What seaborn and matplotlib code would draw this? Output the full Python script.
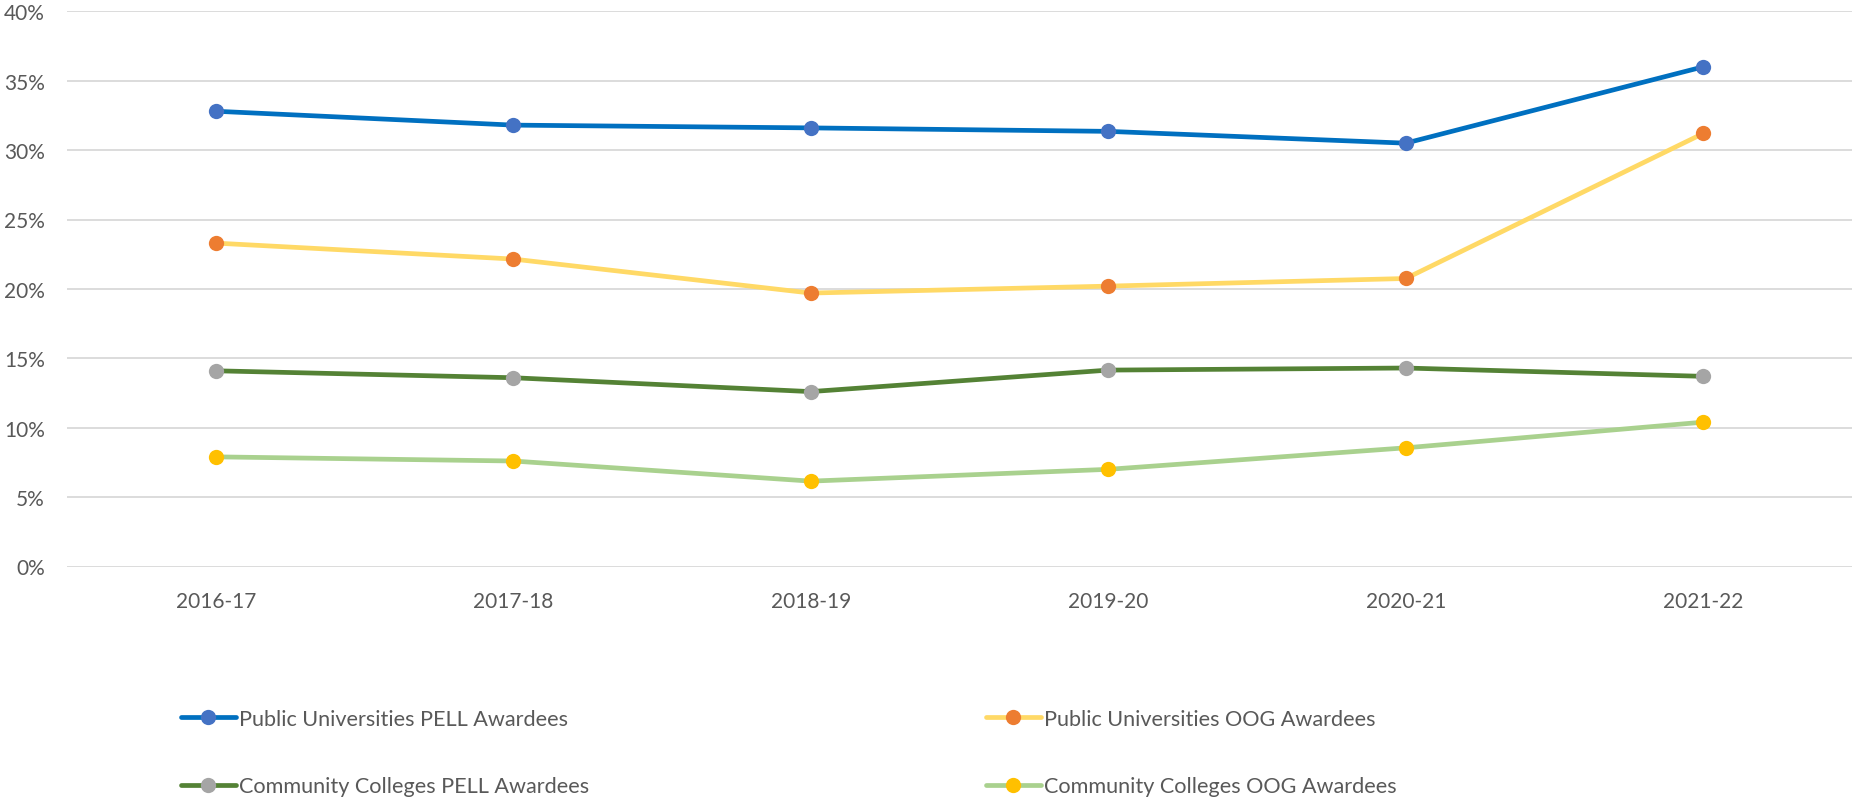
import pandas as pd
import matplotlib.pyplot as plt
import seaborn as sns
from matplotlib.ticker import PercentFormatter

sns.set_theme(style="white")
plt.rcParams['font.family'] = ['Lato', 'DejaVu Sans']

# data (percent)
years = ['2016-17', '2017-18', '2018-19', '2019-20', '2020-21', '2021-22']
pu_pell = [32.8, 31.8, 31.6, 31.35, 30.5, 36.0]
pu_oog = [23.3, 22.15, 19.7, 20.2, 20.75, 31.2]
cc_pell = [14.1, 13.6, 12.6, 14.15, 14.3, 13.7]
cc_oog = [7.9, 7.6, 6.15, 7.0, 8.55, 10.4]

series_names = ['Public Universities PELL Awardees', 'Public Universities OOG Awardees',
                'Community Colleges PELL Awardees', 'Community Colleges OOG Awardees']
line_colors = ['#0070C0', '#FFD966', '#548235', '#A9D18E']
marker_colors = ['#4472C4', '#ED7D31', '#A5A5A5', '#FFC000']

df = pd.DataFrame({'year': years, series_names[0]: pu_pell, series_names[1]: pu_oog,
                   series_names[2]: cc_pell, series_names[3]: cc_oog})

fig = plt.figure(figsize=(18.52, 8.04), dpi=100)
ax = fig.add_axes([67 / 1852, 1 - 567.5 / 804, 1 - 67 / 1852, (567.5 - 12.3) / 804])

handles = []
for name, lc, mc in zip(series_names, line_colors, marker_colors):
    sns.lineplot(data=df, x='year', y=name, ax=ax, color=lc, linewidth=3.4,
                 marker='o', markersize=11, markerfacecolor=mc, markeredgecolor=mc,
                 markeredgewidth=0, label=name, legend=False)
    handles.append(ax.lines[-1])

ax.set_ylim(0, 40)
ax.set_xlim(-0.5, 5.5)
ax.set_yticks(range(0, 41, 5))
ax.yaxis.set_major_formatter(PercentFormatter(decimals=0))
ax.grid(axis='y', color='#D9D9D9', linewidth=1.3)
ax.set_axisbelow(True)
for s in ax.spines.values():
    s.set_visible(False)
ax.set_xlabel('')
ax.set_ylabel('')
ax.tick_params(axis='y', length=0, pad=16, labelsize=15, labelcolor='#595959')
ax.tick_params(axis='x', length=0, pad=18, labelsize=15, labelcolor='#595959')

leg_kw = dict(loc='center left', frameon=False, fontsize=15.6, labelcolor='#595959',
              handlelength=2.55, handletextpad=0.15, borderpad=0, borderaxespad=0,
              labelspacing=2.2, numpoints=1)
fig.legend([handles[0], handles[2]], [series_names[0], series_names[2]],
           bbox_to_anchor=(180.6 / 1852, 1 - 753.4 / 804), **leg_kw)
fig.legend([handles[1], handles[3]], [series_names[1], series_names[3]],
           bbox_to_anchor=(985.6 / 1852, 1 - 753.4 / 804), **leg_kw)

fig.savefig('out.png', dpi=100)
